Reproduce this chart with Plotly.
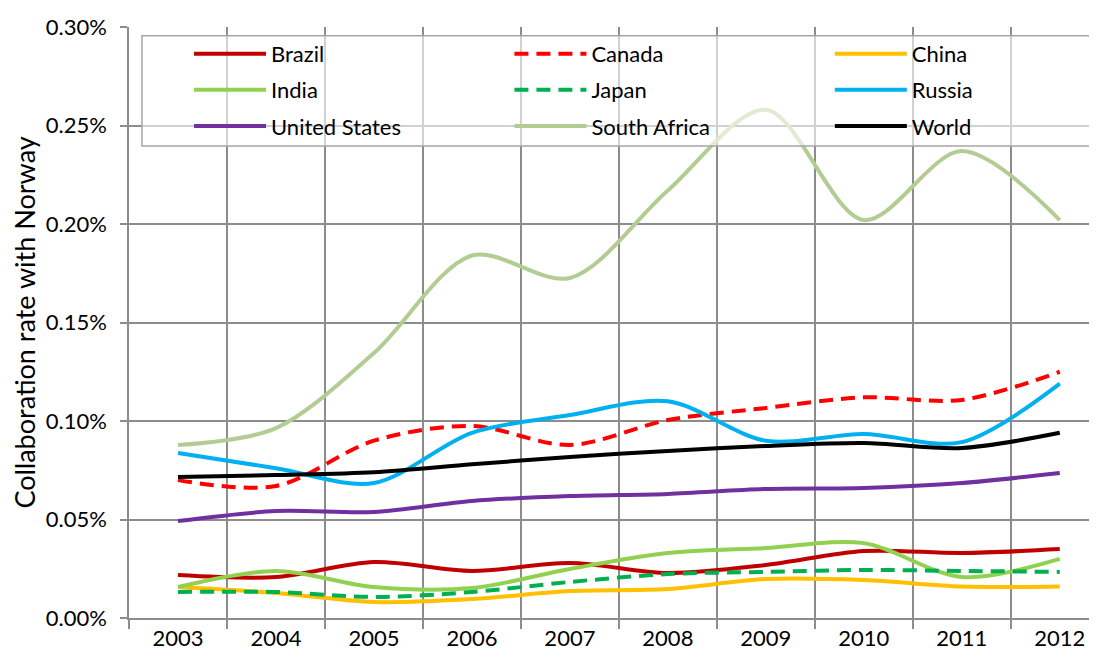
import plotly.graph_objects as go

years = ["2003", "2004", "2005", "2006", "2007", "2008", "2009", "2010", "2011", "2012"]

# collaboration rates (in %, converted to fractions below)
brazil = [0.0218, 0.0208, 0.0284, 0.0239, 0.0279, 0.0228, 0.0269, 0.0340, 0.0330, 0.0350]
canada = [0.0700, 0.0670, 0.0900, 0.0975, 0.0878, 0.1005, 0.1066, 0.1120, 0.1107, 0.1250]
china = [0.0157, 0.0127, 0.0081, 0.0096, 0.0137, 0.0147, 0.0198, 0.0193, 0.0160, 0.0160]
india = [0.0157, 0.0239, 0.0157, 0.0152, 0.0249, 0.0330, 0.0355, 0.0380, 0.0208, 0.0300]
japan = [0.0132, 0.0132, 0.0107, 0.0132, 0.0183, 0.0223, 0.0234, 0.0244, 0.0239, 0.0234]
russia = [0.0838, 0.0760, 0.0685, 0.0940, 0.1030, 0.1100, 0.0900, 0.0934, 0.0893, 0.1190]
united_states = [0.0492, 0.0543, 0.0538, 0.0594, 0.0619, 0.0630, 0.0655, 0.0660, 0.0685, 0.0736]
south_africa = [0.0878, 0.0964, 0.1345, 0.1840, 0.1726, 0.2170, 0.2580, 0.2020, 0.2370, 0.2020]
world = [0.0716, 0.0726, 0.0740, 0.0780, 0.0817, 0.0848, 0.0873, 0.0888, 0.0863, 0.0940]

# name, values, colour, dash, legend column
series = [
    ("Brazil", brazil, "#C00000", "solid", "legend"),
    ("Canada", canada, "#FF0000", "dash", "legend2"),
    ("China", china, "#FFC000", "solid", "legend3"),
    ("India", india, "#92D050", "solid", "legend"),
    ("Japan", japan, "#00B050", "dash", "legend2"),
    ("Russia", russia, "#00B0F0", "solid", "legend3"),
    ("United States", united_states, "#7030A0", "solid", "legend"),
    ("South Africa", south_africa, "#B3CC94", "solid", "legend2"),
    ("World", world, "#000000", "solid", "legend3"),
]

FONT = "Lato, Calibri, 'Liberation Sans', sans-serif"
GRID = "#8C8C8C"

fig = go.Figure()
x = list(range(len(years)))
for name, vals, color, dash, leg in series:
    fig.add_trace(
        go.Scatter(
            x=x,
            y=[v / 100 for v in vals],
            mode="lines",
            name=name,
            legend=leg,
            legendgroup=name,
            line=dict(color=color, width=4, dash="14px,8px" if dash == "dash" else "solid",
                      shape="spline", smoothing=0.9),
        )
    )

# legend frame (semi-transparent, like the Excel chart)
fig.add_shape(
    type="rect", xref="paper", yref="paper",
    x0=0.0134, x1=0.998, y0=0.7986, y1=0.985,
    fillcolor="rgba(255,255,255,0.6)", line=dict(color="#A6A6A6", width=1.5),
    layer="above",
)

legend_common = dict(
    orientation="v",
    bgcolor="rgba(0,0,0,0)",
    font=dict(family=FONT, size=22, color="black"),
    itemwidth=72,
    tracegroupgap=4.5,
    yanchor="top",
    y=0.99,
    xanchor="left",
)

fig.update_layout(
    width=1089,
    height=655,
    margin=dict(l=121, r=0, t=19, b=45),
    plot_bgcolor="white",
    paper_bgcolor="white",
    font=dict(family=FONT, size=22, color="black"),
    showlegend=True,
    legend=dict(legend_common, x=0.062),
    legend2=dict(legend_common, x=0.393),
    legend3=dict(legend_common, x=0.724),
    xaxis=dict(
        range=[-0.5, 9.38],
        tickmode="array",
        tickvals=x,
        ticktext=years,
        showgrid=False,
        ticks="",
        showline=True,
        linecolor=GRID,
        linewidth=1.5,
        tickfont=dict(family=FONT, size=22),
        minor=dict(
            tickmode="linear", tick0=-0.5, dtick=1,
            showgrid=True, gridcolor=GRID, gridwidth=1.5,
            ticks="outside", ticklen=9, tickcolor=GRID, tickwidth=1.5,
        ),
        zeroline=False,
    ),
    yaxis=dict(
        range=[0, 0.003],
        dtick=0.0005,
        tickformat=".2%",
        showgrid=True,
        gridcolor=GRID,
        gridwidth=1.5,
        showline=True,
        linecolor=GRID,
        linewidth=1.5,
        ticks="outside",
        ticklen=7,
        tickcolor=GRID,
        tickwidth=1.5,
        ticklabelstandoff=9,
        zeroline=False,
        tickfont=dict(family=FONT, size=22),
        title=dict(text="Collaboration rate with Norway", font=dict(family=FONT, size=27), standoff=8),
    ),
)

fig.write_html("out.html")
